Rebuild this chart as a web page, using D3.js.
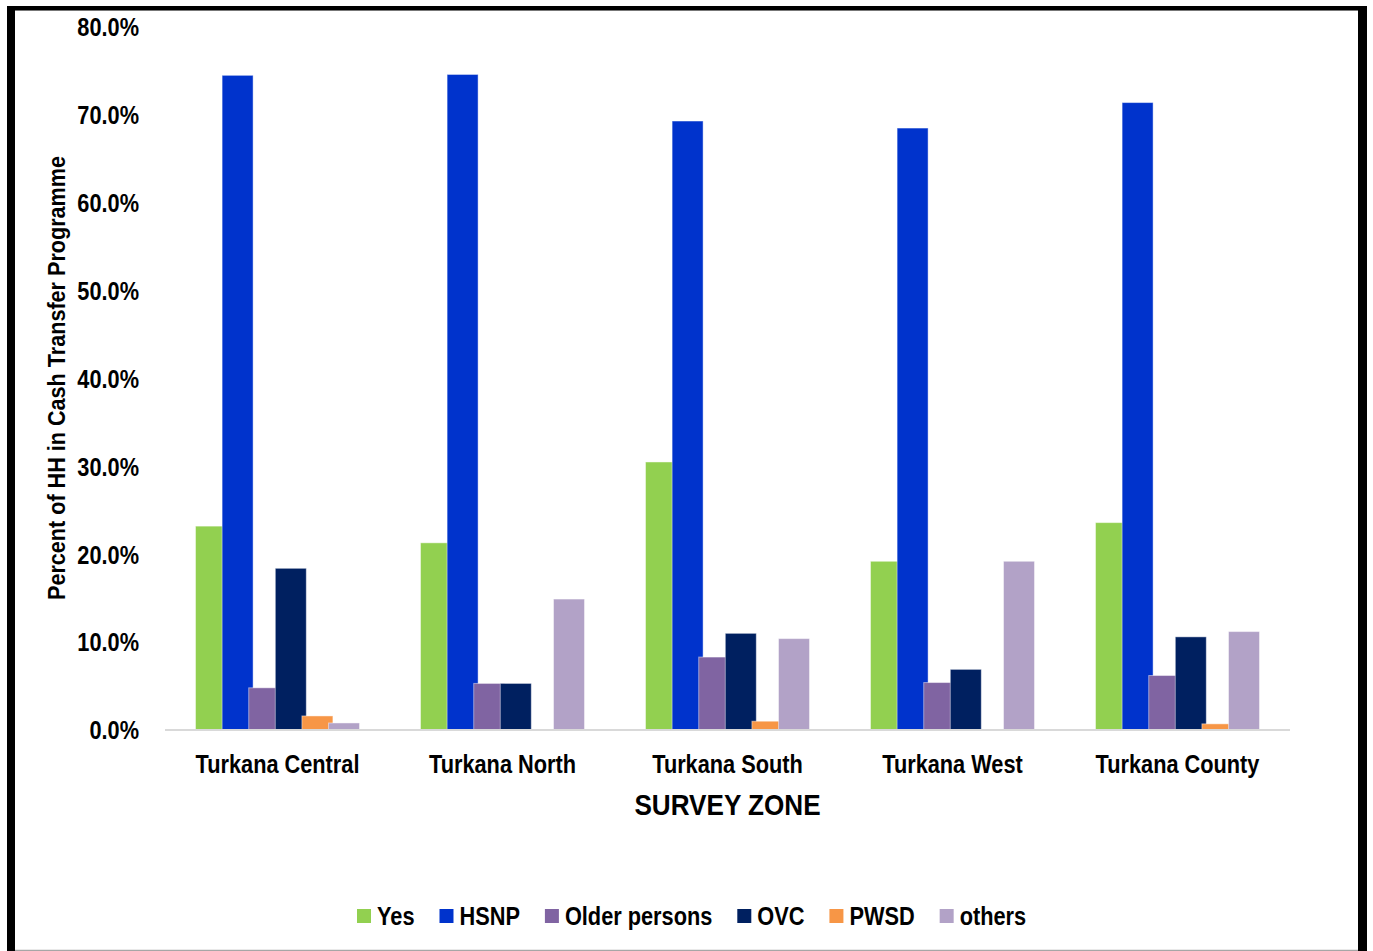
<!DOCTYPE html>
<html>
<head>
<meta charset="utf-8">
<script src="https://cdn.jsdelivr.net/npm/d3@7"></script>
<style>
  html, body { margin: 0; padding: 0; background: #fff; }
  svg { display: block; }
  text { font-family: "Liberation Sans Narrow", "Arial Narrow", "Liberation Sans", Arial, sans-serif; font-weight: bold; fill: #000; }
</style>
</head>
<body>
<svg id="chart" width="1373" height="951"></svg>
<script>
// Survey zones along the x axis
const zones = ["Turkana Central", "Turkana North", "Turkana South", "Turkana West", "Turkana County"];
// Programme categories (one bar per category in each zone)
const programmes = ["Yes", "HSNP", "Older persons", "OVC", "PWSD", "others"];
const colors = ["#92D050", "#0033CC", "#8064A2", "#002060", "#F79646", "#B2A2C7"];
// Percent of households, per programme, in zone order
const yesVals    = [23.2, 21.3, 30.5, 19.2, 23.6];
const hsnpVals   = [74.5, 74.6, 69.3, 68.5, 71.4];
const olderVals  = [4.8, 5.3, 8.3, 5.4, 6.2];
const ovcVals    = [18.4, 5.3, 11.0, 6.9, 10.6];
const pwsdVals   = [1.6, 0.0, 1.0, 0.0, 0.7];
const othersVals = [0.8, 14.9, 10.4, 19.2, 11.2];
const seriesVals = [yesVals, hsnpVals, olderVals, ovcVals, pwsdVals, othersVals];
const yTicks = [0, 10, 20, 30, 40, 50, 60, 70, 80];

// condensed look for the bold labels
const squeeze = 0.87;

const svg = d3.select("#chart");

// frame around the chart
svg.append("rect").attr("x", 7).attr("y", 6).attr("width", 8).attr("height", 945).attr("fill", "#000");
svg.append("rect").attr("x", 7).attr("y", 6).attr("width", 1360).attr("height", 4).attr("fill", "#000");
svg.append("rect").attr("x", 1358).attr("y", 6).attr("width", 9).attr("height", 945).attr("fill", "#000");
svg.append("line").attr("x1", 15).attr("x2", 1358).attr("y1", 10.5).attr("y2", 10.5).attr("stroke", "#777").attr("stroke-width", 1);
svg.append("line").attr("x1", 15).attr("x2", 1358).attr("y1", 950.5).attr("y2", 950.5).attr("stroke", "#a6a6a6").attr("stroke-width", 1.5);

const plotLeft = 165, plotRight = 1290, plotTop = 27, plotBottom = 730;

const x = d3.scaleBand().domain(zones).range([plotLeft, plotRight]).padding(0);
const y = d3.scaleLinear().domain([0, 80]).range([plotBottom, plotTop]);

// bars within a zone overlap slightly
const groupStep = 26.6;
const inner = d3.scaleBand().domain(programmes).range([0, groupStep * programmes.length]).padding(0);
const barW = inner.step() * 1.165;
const groupSpan = groupStep * (programmes.length - 1) + barW;

const bars = svg.append("g");
programmes.forEach((p, si) => {
  bars.selectAll(null)
    .data(zones.map((z, zi) => ({ zone: z, v: seriesVals[si][zi] })).filter(d => d.v > 0))
    .enter().append("rect")
    .attr("x", d => x(d.zone) + x.bandwidth() / 2 - groupSpan / 2 + inner(p))
    .attr("y", d => y(d.v))
    .attr("width", barW)
    .attr("height", d => y(0) - y(d.v))
    .attr("fill", colors[si])
    .attr("stroke", "rgba(255,255,255,0.45)")
    .attr("stroke-width", 1);
});

// baseline
svg.append("line")
  .attr("x1", plotLeft).attr("x2", plotRight)
  .attr("y1", y(0)).attr("y2", y(0))
  .attr("stroke", "#d9d9d9").attr("stroke-width", 2);

// y axis labels
const yAxis = d3.axisLeft(y).tickValues(yTicks).tickFormat(d => d3.format(".1f")(d) + "%").tickSize(0).tickPadding(0);
const yg = svg.append("g").attr("transform", "translate(139,0)").call(yAxis);
yg.select(".domain").remove();
yg.selectAll("text").attr("x", 0).attr("font-size", 25).attr("dy", "0.35em")
  .attr("transform", `scale(${squeeze},1)`).style("font-family", null);

// x axis labels
const xAxis = d3.axisBottom(x).tickSize(0).tickPadding(0);
const xg = svg.append("g").attr("transform", `translate(0,${y(0) + 34})`).call(xAxis);
xg.select(".domain").remove();
xg.selectAll("text").attr("y", 0).attr("font-size", 25).attr("dy", "0.35em")
  .attr("transform", `scale(${squeeze},1)`).style("font-family", null);

// axis titles
svg.append("g").attr("transform", `translate(${(plotLeft + plotRight) / 2},804) scale(${squeeze},1)`)
  .append("text").attr("dy", "0.35em").attr("text-anchor", "middle").attr("font-size", 30)
  .text("SURVEY ZONE");
svg.append("g").attr("transform", "translate(57,378) rotate(-90) scale(0.9,1)")
  .append("text").attr("dy", "0.35em").attr("text-anchor", "middle").attr("font-size", 24)
  .text("Percent of HH in Cash Transfer Programme");

// legend
const legend = svg.append("g");
let lx = 357;
programmes.forEach((p, i) => {
  legend.append("rect").attr("x", lx).attr("y", 909).attr("width", 14).attr("height", 14).attr("fill", colors[i]);
  const t = legend.append("g").attr("transform", `translate(${lx + 20},916) scale(${squeeze},1)`)
    .append("text").attr("dy", "0.35em").attr("font-size", 25).text(p);
  lx += 20 + t.node().getComputedTextLength() * squeeze + 25;
});
</script>
</body>
</html>
